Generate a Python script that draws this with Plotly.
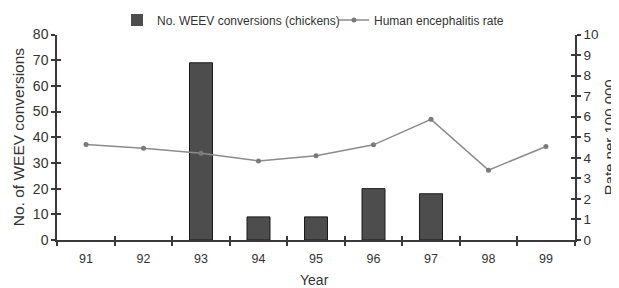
import plotly.graph_objects as go

years = ["91", "92", "93", "94", "95", "96", "97", "98", "99"]
weev_conversions = [0, 0, 69, 9, 9, 20, 18, 0, 0]
encephalitis_rate = [4.65, 4.47, 4.22, 3.85, 4.1, 4.63, 5.87, 3.4, 4.55]

font_family = "Liberation Sans, Arial, sans-serif"
axis_col = "#3a3a3a"
txt_col = "#333333"

W, H = 611, 280
L, R, T, B = 49, 44, 26, 48
PW, PH = W - L - R, H - T - B

fig = go.Figure()
fig.add_trace(go.Bar(
    x=years, y=weev_conversions, name="No. WEEV conversions (chickens)",
    marker=dict(color="#4d4d4d",
                line=dict(color="#1a1a1a", width=[1 if v > 0 else 0 for v in weev_conversions])),
    width=0.4, yaxis="y",
))
fig.add_trace(go.Scatter(
    x=years, y=encephalitis_rate, name="Human encephalitis rate",
    mode="lines+markers", line=dict(color="#8c8c8c", width=1.5),
    marker=dict(color="#7a7a7a", size=5), yaxis="y2",
))

common_axis = dict(showline=True, linecolor=axis_col, linewidth=1.5, automargin=False,
                   tickcolor=axis_col, tickwidth=1.5, showgrid=False, zeroline=False)
dup_axis = dict(showline=False, ticks="inside", ticklen=4, tickcolor=axis_col, tickwidth=1.5,
                automargin=False, showticklabels=False, showgrid=False, zeroline=False)

fig.update_layout(
    width=W, height=H,
    margin=dict(l=L, r=R, t=T, b=B),
    paper_bgcolor="white", plot_bgcolor="white",
    font=dict(family=font_family, color=txt_col, size=12),
    showlegend=True,
    legend=dict(orientation="h", xref="container", yref="container",
                x=109 / W, xanchor="left", y=1 - 12 / H, yanchor="middle",
                font=dict(size=12, color=txt_col), traceorder="normal",
                itemwidth=30, entrywidth=172, bgcolor="rgba(0,0,0,0)"),
    xaxis=dict(**common_axis, type="category", tickson="boundaries", ticks="outside",
               ticklen=4, ticklabelstandoff=6,
               tickfont=dict(size=12.5, color=txt_col, family=font_family)),
    xaxis2=dict(**dup_axis, type="category", tickson="boundaries", overlaying="x",
                matches="x"),
    yaxis=dict(**common_axis, range=[0, 80], dtick=10, ticks="outside", ticklen=4,
               tickfont=dict(size=14, color=txt_col, family=font_family)),
    yaxis2=dict(**common_axis, range=[0, 10], dtick=1, overlaying="y", side="right",
                ticks="outside", ticklen=4,
                tickfont=dict(size=13.5, color=txt_col, family=font_family)),
    yaxis3=dict(**dup_axis, range=[0, 80], dtick=10, overlaying="y", side="left"),
    yaxis4=dict(**dup_axis, range=[0, 10], dtick=1, overlaying="y", side="right"),
    annotations=[
        dict(text="No. of WEEV conversions", xref="paper", yref="paper",
             x=-39 / PW, y=0.5, xanchor="center", yanchor="middle", textangle=-90,
             showarrow=False, font=dict(size=15.5, color=txt_col)),
        dict(text="Rate per 100,000", xref="paper", yref="paper",
             x=1 + 34 / PW, y=0.5, xanchor="center", yanchor="middle", textangle=-90,
             showarrow=False, font=dict(size=15, color=txt_col)),
        dict(text="Year", xref="paper", yref="paper",
             x=0.498, y=-40 / PH, xanchor="center", yanchor="middle",
             showarrow=False, font=dict(size=14, color=txt_col)),
    ],
)
# invisible traces to activate the inside-tick duplicate axes
fig.add_trace(go.Scatter(x=years, y=weev_conversions, xaxis="x2", yaxis="y3", mode="none",
                         showlegend=False, hoverinfo="skip"))
fig.add_trace(go.Scatter(x=years, y=encephalitis_rate, yaxis="y4", mode="none",
                         showlegend=False, hoverinfo="skip"))

fig.write_html("out.html")
